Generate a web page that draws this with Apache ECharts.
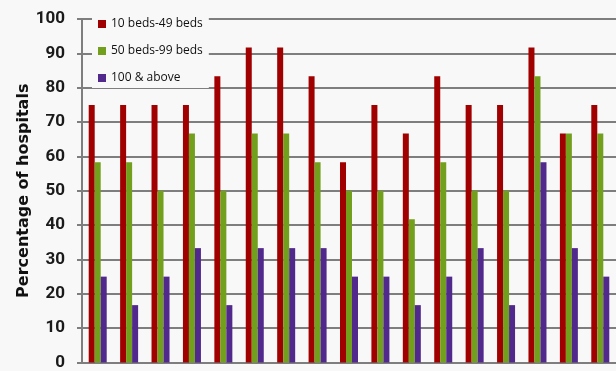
<!DOCTYPE html>
<html>
<head>
<meta charset="utf-8">
<script src="https://cdn.jsdelivr.net/npm/echarts@6/dist/echarts.min.js"></script>
<style>
  html, body { margin: 0; padding: 0; background: #fff; }
  #chart { width: 616px; height: 371px; }
</style>
</head>
<body>
<div id="chart"></div>
<script>
const groups = ['1', '2', '3', '4', '5', '6', '7', '8', '9', '10', '11', '12', '13', '14', '15', '16', '17'];
const small = [75, 75, 75, 75, 83.3, 91.7, 91.7, 83.3, 58.3, 75, 66.7, 83.3, 75, 75, 91.7, 66.7, 75];
const medium = [58.3, 58.3, 50, 66.7, 50, 66.7, 66.7, 58.3, 50, 50, 41.7, 58.3, 50, 50, 83.3, 66.7, 66.7];
const large = [25, 16.7, 25, 33.3, 16.7, 33.3, 33.3, 33.3, 25, 25, 16.7, 25, 33.3, 16.7, 58.3, 33.3, 25];
const seriesNames = ['10 beds-49 beds', '50 beds-99 beds', '100 & above'];
const yTicks = { min: 0, max: 100, interval: 10 };

const chart = echarts.init(document.getElementById('chart'));
const colors = ['#a00000', '#72a01c', '#51288c'];
const gridGray = '#7e7e7e';

const option = {
  backgroundColor: '#f8f8f8',
  color: colors,
  animation: false,
  legend: {
    orient: 'vertical',
    left: 92,
    top: 14,
    padding: [4, 6, 4, 6],
    itemWidth: 8,
    itemHeight: 8,
    itemGap: 15,
    icon: 'rect',
    backgroundColor: '#f8f8f8',
    textStyle: {
      fontFamily: 'Open Sans',
      fontWeight: 500,
      fontSize: 12,
      color: '#111',
    },
    data: seriesNames,
  },
  grid: {
    left: 82,
    top: 19,
    width: 548,
    height: 344,
  },
  xAxis: {
    type: 'category',
    data: groups,
    axisLine: { lineStyle: { color: gridGray, width: 2 } },
    axisTick: { show: false },
    axisLabel: { show: false },
  },
  yAxis: {
    type: 'value',
    min: yTicks.min,
    max: yTicks.max,
    interval: yTicks.interval,
    name: 'Percentage of hospitals',
    nameLocation: 'middle',
    nameGap: 50,
    nameMoveOverlap: false,
    nameTextStyle: {
      fontFamily: 'DejaVu Sans',
      fontWeight: 'bold',
      fontSize: 16,
      color: '#111',
    },
    axisLine: { show: true, lineStyle: { color: gridGray, width: 2 } },
    axisTick: { show: true, length: 5, lineStyle: { color: gridGray, width: 2 } },
    axisLabel: {
      margin: 17,
      fontFamily: 'Roboto',
      fontWeight: 'bold',
      fontSize: 17,
      color: '#1a1a1a',
    },
    splitLine: { lineStyle: { color: gridGray, width: 2 } },
  },
  series: [
    { name: seriesNames[0], type: 'bar', data: small, barWidth: 6, barGap: '0%' },
    { name: seriesNames[1], type: 'bar', data: medium, barWidth: 6, barGap: '0%' },
    { name: seriesNames[2], type: 'bar', data: large, barWidth: 6, barGap: '0%' },
  ],
};
chart.setOption(option);
</script>
</body>
</html>
